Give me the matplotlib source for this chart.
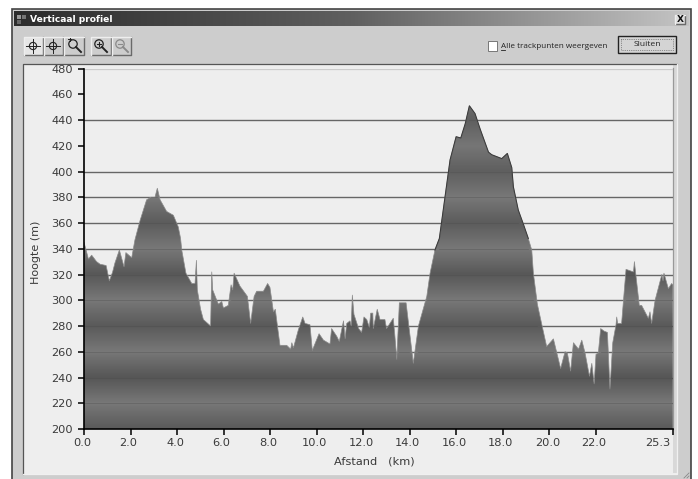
import matplotlib
matplotlib.use('Agg')
import matplotlib.pyplot as plt
from matplotlib.patches import Rectangle, Circle
from matplotlib.transforms import ScaledTranslation
import numpy as np

# === Data ===
afstand = [0.0, 0.09, 0.19, 0.33, 0.54, 0.69, 0.95, 1.09, 1.23, 1.33, 1.52, 1.72, 1.8, 2.05, 2.19,
           2.41, 2.69, 2.87, 3.05, 3.15, 3.27, 3.55, 3.84, 4.05, 4.15, 4.2, 4.38, 4.63, 4.77, 4.83,
           4.87, 5.01, 5.13, 5.44, 5.49, 5.53, 5.77, 5.92, 5.99, 6.2, 6.32, 6.39, 6.45, 6.7, 7.02,
           7.16, 7.31, 7.42, 7.71, 7.89, 7.99, 8.14, 8.22, 8.42, 8.71, 8.88, 8.93, 9.0, 9.21, 9.4,
           9.5, 9.71, 9.81, 10.1, 10.29, 10.57, 10.64, 10.86, 10.97, 11.15, 11.22, 11.29, 11.43, 11.48, 11.53,
           11.6, 11.8, 11.93, 12.03, 12.15, 12.26, 12.32, 12.41, 12.43, 12.6, 12.72, 12.93, 13.0, 13.29, 13.36,
           13.44, 13.55, 13.84, 13.98, 14.15, 14.37, 14.73, 14.87, 15.08, 15.27, 15.51, 15.73, 15.99, 16.19, 16.38,
           16.56, 16.8, 17.02, 17.38, 17.52, 17.95, 18.19, 18.38, 18.45, 18.66, 18.88, 19.09, 19.24, 19.31, 19.48,
           19.88, 20.17, 20.48, 20.67, 20.77, 20.91, 21.03, 21.25, 21.39, 21.53, 21.72, 21.82, 21.92, 22.0, 22.1,
           22.2, 22.35, 22.49, 22.6, 22.72, 22.86, 22.89, 22.93, 23.1, 23.29, 23.61, 23.65, 23.86, 23.96, 24.25,
           24.32, 24.39, 24.54, 24.83, 24.88, 24.92, 25.11, 25.25, 25.3]
hoogte = [345, 339, 332, 335, 330, 328, 327, 315, 322, 329, 339, 326, 337, 333, 347,
          362, 378, 380, 380, 387, 378, 369, 366, 357, 348, 339, 321, 313, 313, 331,
          308, 293, 285, 280, 322, 308, 297, 299, 294, 296, 312, 308, 321, 311, 303,
          282, 303, 307, 307, 313, 310, 291, 293, 265, 265, 262, 267, 263, 277, 287,
          282, 281, 261, 274, 269, 266, 278, 272, 268, 284, 270, 282, 284, 280, 304,
          289, 278, 275, 287, 285, 279, 290, 290, 278, 293, 285, 285, 278, 286, 272,
          254, 298, 298, 277, 251, 280, 303, 321, 339, 348, 380, 409, 427, 426, 437,
          451, 445, 433, 415, 413, 410, 414, 403, 388, 370, 359, 348, 339, 321, 297,
          264, 270, 247, 260, 259, 245, 267, 262, 269, 259, 241, 251, 235, 258, 259,
          278, 276, 275, 231, 267, 281, 287, 282, 282, 324, 322, 330, 296, 296, 286,
          291, 282, 300, 320, 315, 321, 309, 313, 312]

y_ticks = list(range(200, 481, 20))
grid_levels = [220, 240, 260, 280, 300, 320, 340, 360, 380, 400, 440]
x_ticks = [0, 2, 4, 6, 8, 10, 12, 14, 16, 18, 20, 22, 25.3]
x_labels = ['0.0', '2.0', '4.0', '6.0', '8.0', '10.0', '12.0', '14.0', '16.0', '18.0', '20.0', '22.0', '25.3']

W, H = 698, 479
fig = plt.figure(figsize=(W / 100, H / 100), dpi=100, facecolor='white')

# === Window chrome, in pixels ===
bg = fig.add_axes([0, 0, 1, 1])
bg.axis('off')

def box(x, y, w, h, fc='none', ec='none', lw=1.0, z=1, ls='-'):
    bg.add_patch(Rectangle((x, y), w, h, facecolor=fc, edgecolor=ec, linewidth=lw, zorder=z, linestyle=ls))

def button(x, y, w, h, fc='#cdcdcd'):
    box(x, y, w, h, fc=fc, z=2)
    bg.plot([x, x + w, x + w], [y + h, y + h, y], color='#6a6a6a', lw=1, zorder=3)
    bg.plot([x, x, x + w], [y + h, y, y], color='#eeeeee', lw=1, zorder=3)

def crosshair(cx, cy, col='#222222'):
    bg.add_patch(Circle((cx, cy), 3.6, fill=False, ec=col, lw=0.8, zorder=4))
    bg.plot([cx - 7, cx + 7], [cy, cy], color=col, lw=0.7, zorder=4)
    bg.plot([cx, cx], [cy - 7, cy + 7], color=col, lw=0.7, zorder=4)

def lens(cx, cy, col='#222222', r=4.2):
    bg.add_patch(Circle((cx, cy), r, fill=False, ec=col, lw=0.9, zorder=4))
    bg.plot([cx + 3, cx + 8], [cy + 3, cy + 8], color=col, lw=1.4, zorder=4)

box(12, 9, 679, 472, fc='#cdcdcd', ec='#444444', lw=1.2)
bg.imshow(np.linspace(0, 1, 256).reshape(1, -1), cmap=matplotlib.colors.LinearSegmentedColormap.from_list(
    'title', ['#2c2c2c', '#5f5f5f', '#c4c4c4']), extent=[14, 689, 26, 11], aspect='auto', zorder=2)
box(17, 15, 4, 4, fc='#999999', z=3)
box(22, 15, 4, 4, fc='#777777', z=3)
box(17, 20, 4, 4, fc='#666666', z=3)
bg.text(30, 19, 'Verticaal profiel', color='white', fontsize=6.6, fontweight='bold',
        family='DejaVu Sans', va='center', zorder=4)
button(675, 15, 10, 9, fc='#dddddd')
bg.text(680, 19.5, 'X', fontsize=6.5, fontweight='bold', ha='center', va='center', color='#111111', zorder=5)

# toolbar
button(24, 37, 19, 18, fc='#e6e6e6')
button(44, 37, 19, 18)
button(64, 37, 20, 18)
button(91, 37, 20, 18)
button(112, 37, 19, 18)
crosshair(33, 46)
crosshair(53, 46)
lens(73, 44)
bg.plot([68, 71], [39, 39], color='#222222', lw=0.7, zorder=4)
bg.plot([69.5, 69.5], [37.5, 40.5], color='#222222', lw=0.7, zorder=4)
lens(99, 44)
bg.plot([97, 101], [44, 44], color='#222222', lw=0.8, zorder=5)
bg.plot([99, 99], [42, 46], color='#222222', lw=0.8, zorder=5)
lens(120, 44, col='#8a8a8a')
bg.plot([118, 122], [44, 44], color='#8a8a8a', lw=0.8, zorder=5)

box(487.5, 41, 9.5, 9.5, fc='white', ec='#777777', lw=0.7, z=3)
bg.text(501, 46, 'Alle trackpunten weergeven', fontsize=5.85, color='#222222',
        family='Open Sans', va='center', zorder=4)
bg.plot([501, 505], [50, 50], color='#222222', lw=0.6, zorder=4)
box(618, 36, 58, 17, fc='#d4d4d4', ec='#222222', lw=1.0, z=3)
box(621, 39, 52, 11, ec='#444444', lw=0.5, z=4, ls=':')
bg.text(647, 44.5, 'Sluiten', fontsize=6.1, color='#222222', family='Open Sans',
        ha='center', va='center', zorder=5)

# chart panel
box(23, 63.5, 654, 410, fc='#eeeeee', z=1)
box(673, 65, 4, 408, fc='#d8d8d8', z=1)
bg.plot([23, 23, 677], [473.5, 63.5, 63.5], color='#555555', lw=0.9, zorder=2)
bg.plot([23, 677, 677], [473.5, 473.5, 63.5], color='#f0f0f0', lw=0.9, zorder=2)
bg.plot([684, 689], [478, 473], color='#888888', lw=0.6, zorder=2)
bg.plot([687, 689], [478, 476], color='#888888', lw=0.6, zorder=2)
bg.plot([672.5, 672.5], [68, 429], color='#999999', lw=0.9, zorder=2)
bg.set_xlim(0, W)
bg.set_ylim(H, 0)

# === Profile chart ===
x0, x1, y0, y1 = 84, 672.8, 429, 68.5
ax = fig.add_axes([x0 / W, (H - y0) / H, (x1 - x0) / W, (y0 - y1) / H])
ax.patch.set_alpha(0)
ax.set_xlim(0, 25.3)
ax.set_ylim(200, 480)

for lvl in grid_levels:
    ax.axhline(lvl, color='#666666', lw=1.0, zorder=1)
ax.axhline(480, color='#cccccc', lw=0.9, zorder=1)

# banded gradient clipped to the profile
band_y = np.linspace(200, 480, 561)
band = np.interp(band_y, [200, 220, 240, 260, 280, 300, 320, 340, 360, 380, 400, 420, 440, 460, 480],
                 [90, 120, 86, 120, 90, 120, 88, 120, 92, 120, 95, 118, 95, 118, 95])
poly = ax.fill_between(afstand, hoogte, 200, color='none', zorder=2)
img = ax.imshow(band[::-1].reshape(-1, 1), cmap='gray', vmin=0, vmax=255, aspect='auto',
                extent=[0, 25.3, 200, 480], zorder=2)
img.set_clip_path(poly.get_paths()[0], transform=ax.transData)

# soft edge on the low parts, dark outline only on the big climb
ax.plot(afstand, hoogte, color='#8a8a8a', lw=0.5, zorder=3)
top_edge = np.ma.masked_where((np.array(afstand) < 14.9) | (np.array(afstand) > 19.2), hoogte)
ax.plot(afstand, top_edge, color='#3c3c3c', lw=0.8, zorder=3)
for lvl in grid_levels:
    ax.plot(afstand, np.ma.masked_where(np.array(hoogte) < lvl, np.full(len(hoogte), lvl)),
            color='#4a4a4a', lw=0.5, alpha=0.45, zorder=3)
ax.set_xlim(0, 25.3)
ax.set_ylim(200, 480)

for side in ['top', 'right']:
    ax.spines[side].set_visible(False)
for side in ['left', 'bottom']:
    ax.spines[side].set_linewidth(1.2)
    ax.spines[side].set_color('black')
    ax.spines[side].set_zorder(5)

ax.set_yticks(y_ticks)
ax.set_xticks(x_ticks)
ax.set_xticklabels(x_labels)
ax.tick_params(axis='both', length=4, width=1.1, color='black', labelcolor='#3a3a3a', labelsize=8.2)
ax.tick_params(axis='y', pad=4)
ax.tick_params(axis='x', pad=2.5)

# x labels sit a little left of their ticks, the last one ends at its tick
shift = ScaledTranslation(-2 / 100, 0, fig.dpi_scale_trans)
for lab in ax.get_xticklabels():
    lab.set_transform(lab.get_transform() + shift)
ax.get_xticklabels()[-1].set_ha('right')

fig.text(374 / W, 1 - 461 / H, 'Afstand   (km)', fontsize=8.2, color='#3a3a3a', ha='center', va='center')
fig.text(36 / W, 1 - 252 / H, 'Hoogte (m)', fontsize=8, color='#3a3a3a', rotation=90, ha='center', va='center')

fig.savefig('out.png', dpi=100)
